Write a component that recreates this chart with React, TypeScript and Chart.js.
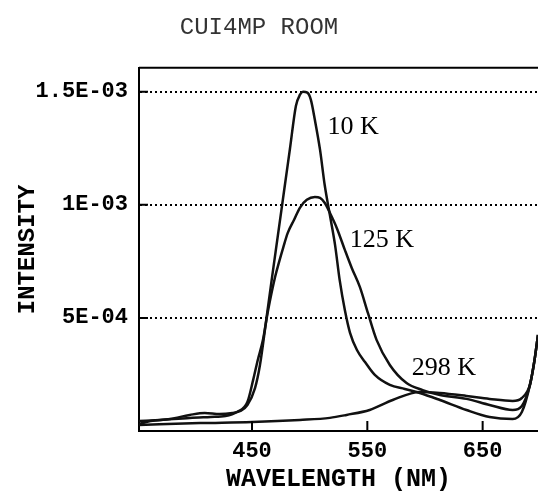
import React, { useEffect, useRef } from "react";
import { Chart, registerables } from "chart.js";

Chart.register(...registerables);

// ---- texts ----
const titleText = "CUI4MP ROOM";
const xAxisTitle = "WAVELENGTH (NM)";
const yAxisTitle = "INTENSITY";

// ---- axes ----
const xMin = 352;
const xMax = 698;
const yMin = 0;
const yMax = 16.06; // intensity in units of 1E-04
const xTickValues = [450, 550, 650];
const xTickLabels = ["450", "550", "650"];
const yTickValues = [5, 10, 15];
const yTickLabels = ["5E-04", "1E-03", "1.5E-03"];

// ---- series (wavelength nm, intensity in 1E-04) ----
const wavelength10K = [352, 362, 379, 396, 409, 422, 433, 440, 446, 452.6, 456.9, 462.1, 467.3, 472.5, 477.7, 482.9, 488.1, 491.6, 494.2, 498, 501, 504.5, 509, 513, 517.5, 522, 526, 530.5, 535, 541, 548, 556.5, 569.5, 582.5, 595.5, 613, 636, 656, 676, 684, 691, 695, 698];
const intensity10K = [0.31, 0.44, 0.53, 0.71, 0.8, 0.75, 0.8, 0.89, 1.15, 1.9, 2.92, 4.82, 6.77, 8.67, 10.58, 12.48, 14.38, 14.87, 15.0, 14.96, 14.65, 13.76, 12.43, 10.89, 9.56, 8.23, 6.68, 5.35, 4.34, 3.58, 3.05, 2.48, 2.04, 1.86, 1.68, 1.37, 0.93, 0.62, 0.53, 0.84, 2.04, 3.14, 4.25];

const wavelength125K = [352, 370, 396, 414, 427, 437, 446, 451, 455, 459.5, 464, 470, 473.5, 477, 481, 486.5, 491.5, 497.5, 504.5, 509, 513, 517.5, 523.5, 530.5, 536.5, 543.5, 550.5, 558, 569.5, 584, 598, 613, 636, 656, 676, 684, 691, 695, 698];
const intensity125K = [0.44, 0.49, 0.58, 0.62, 0.66, 0.84, 1.28, 2.26, 3.14, 4.03, 5.35, 6.81, 7.48, 8.1, 8.76, 9.34, 9.87, 10.22, 10.35, 10.31, 10.09, 9.65, 8.98, 8.01, 7.21, 6.37, 5.22, 4.03, 2.92, 2.12, 1.81, 1.59, 1.42, 1.15, 0.93, 1.11, 2.04, 3.14, 4.25];

const wavelength298K = [352, 405, 450, 491.5, 517.5, 532, 552, 572, 595.5, 613, 636, 656, 676, 684, 691, 695, 698];
const intensity298K = [0.27, 0.35, 0.4, 0.49, 0.58, 0.71, 0.93, 1.37, 1.73, 1.68, 1.55, 1.42, 1.33, 1.46, 2.04, 3.14, 4.25];

// ---- in-plot labels ----
const seriesNames = ["10 K", "125 K", "298 K"];
const labelWavelength = [515.5, 534.8, 588.5];
const labelIntensity = [13.45, 8.45, 2.79];

const toPoints = (xs: number[], ys: number[]) => xs.map((x, i) => ({ x, y: ys[i] }));

const monoFont = "'Liberation Mono', 'DejaVu Sans Mono', monospace";

const decorPlugin = {
  id: "decor",
  afterDatasetsDraw(chart: any) {
    const { ctx, chartArea: a, scales } = chart;
    const x = scales.x;
    const y = scales.y;
    ctx.save();
    ctx.strokeStyle = "#000";
    ctx.lineWidth = 2;
    ctx.beginPath();
    ctx.moveTo(a.left, a.top);
    ctx.lineTo(a.right, a.top);
    yTickValues.forEach((v) => {
      const py = y.getPixelForValue(v);
      ctx.moveTo(a.left, py);
      ctx.lineTo(a.left + 9, py);
    });
    xTickValues.forEach((v) => {
      const px = x.getPixelForValue(v);
      ctx.moveTo(px, a.bottom);
      ctx.lineTo(px, a.bottom - 10);
    });
    ctx.stroke();
    ctx.fillStyle = "#000";
    ctx.font = "26px 'Liberation Serif', 'DejaVu Serif', serif";
    ctx.textAlign = "left";
    ctx.textBaseline = "middle";
    seriesNames.forEach((t, i) => {
      ctx.fillText(t, x.getPixelForValue(labelWavelength[i]), y.getPixelForValue(labelIntensity[i]));
    });
    ctx.restore();
  },
};

export default function App() {
  const ref = useRef<HTMLCanvasElement | null>(null);
  useEffect(() => {
    if (!ref.current) return;
    const lineStyle = {
      borderColor: "#111",
      borderWidth: 2.5,
      pointRadius: 0,
      tension: 0.3,
      cubicInterpolationMode: "monotone" as const,
      fill: false,
    };
    const chart = new Chart(ref.current, {
      type: "line",
      data: {
        datasets: [
          { label: seriesNames[0], data: toPoints(wavelength10K, intensity10K), ...lineStyle },
          { label: seriesNames[1], data: toPoints(wavelength125K, intensity125K), ...lineStyle },
          { label: seriesNames[2], data: toPoints(wavelength298K, intensity298K), ...lineStyle },
        ],
      },
      options: {
        animation: false,
        responsive: false,
        maintainAspectRatio: false,
        layout: { padding: 0 },
        plugins: {
          legend: { display: false },
          tooltip: { enabled: false },
          title: {
            display: true,
            text: titleText,
            color: "#333",
            font: { family: monoFont, size: 24, weight: "normal", lineHeight: 1.2 },
            padding: { top: 13, bottom: 26 },
          },
        },
        scales: {
          x: {
            type: "linear",
            min: xMin,
            max: xMax,
            afterBuildTicks: (s: any) => {
              s.ticks = xTickValues.map((v) => ({ value: v }));
            },
            afterFit: (s: any) => {
              s.height = 60;
            },
            ticks: {
              autoSkip: false,
              maxRotation: 0,
              padding: 7,
              color: "#000",
              font: { family: monoFont, size: 22, weight: "bold", lineHeight: 1.2 },
              callback: (_v: any, i: number) => xTickLabels[i],
            },
            grid: { display: false, drawTicks: false },
            border: { display: true, color: "#000", width: 2 },
            title: {
              display: true,
              text: xAxisTitle,
              color: "#000",
              font: { family: monoFont, size: 25, weight: "bold", lineHeight: 0.8 },
              padding: { top: 0, bottom: 1 },
            },
          },
          y: {
            type: "linear",
            min: yMin,
            max: yMax,
            afterBuildTicks: (s: any) => {
              s.ticks = yTickValues.map((v) => ({ value: v }));
            },
            afterFit: (s: any) => {
              s.width = 159;
            },
            ticks: {
              autoSkip: false,
              padding: 11,
              color: "#000",
              font: { family: monoFont, size: 22, weight: "bold", lineHeight: 1.2 },
              callback: (_v: any, i: number) => yTickLabels[i],
            },
            grid: { display: true, drawTicks: false, color: "#000", lineWidth: 2 },
            border: { display: true, color: "#000", width: 2, dash: [2, 3] },
            title: {
              display: true,
              text: yAxisTitle,
              color: "#000",
              font: { family: monoFont, size: 24, weight: "bold", lineHeight: 1.2 },
              padding: { top: 34, bottom: 0 },
            },
          },
        },
      },
      plugins: [decorPlugin],
    });
    return () => chart.destroy();
  }, []);
  return (
    <div>
      <canvas
        ref={ref}
        width={558}
        height={491}
        style={{ position: "absolute", left: -20, top: 0, width: 558, height: 491, display: "block" }}
      />
    </div>
  );
}
